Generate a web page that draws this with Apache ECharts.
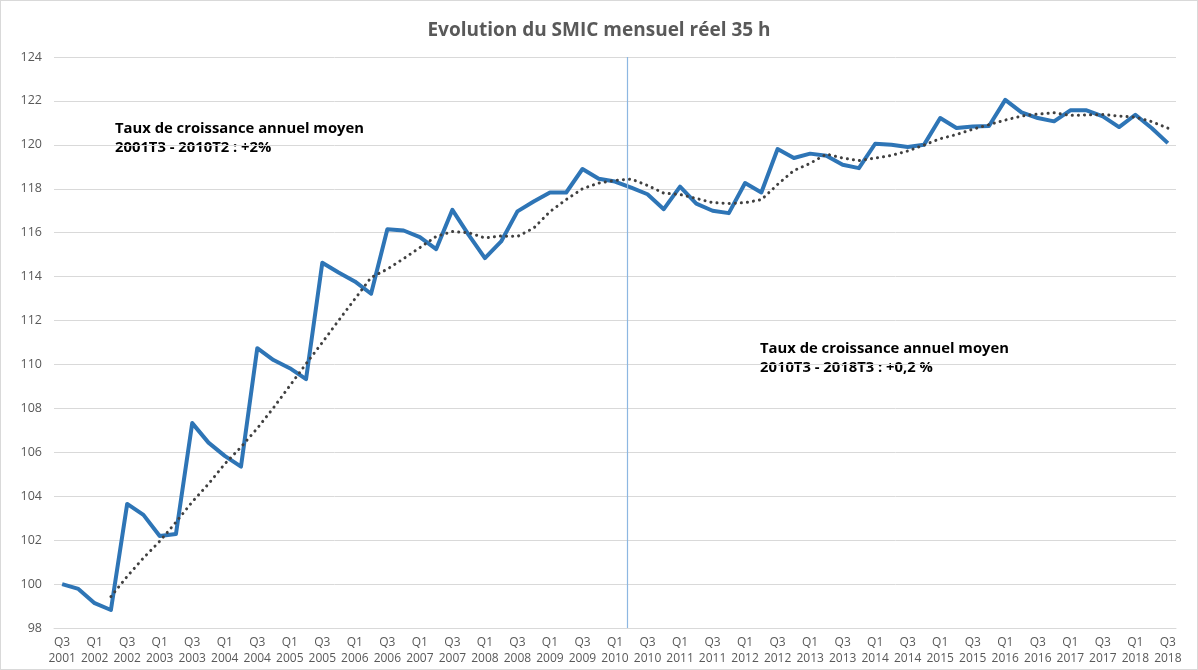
<!DOCTYPE html>
<html>
<head>
<meta charset="utf-8">
<script src="https://cdn.jsdelivr.net/npm/echarts@6/dist/echarts.min.js"></script>
<style>
    html, body { margin: 0; padding: 0; background: #fff; }
    #chart { width: 1196px; height: 668px; border: 1px solid #d9d9d9; }
</style>
</head>
<body>
<div id="chart"></div>
<script>
    // trimestres Q3 2001 -> Q3 2018
    var quarters = [
        'Q3 2001', 'Q4 2001', 'Q1 2002', 'Q2 2002', 'Q3 2002', 'Q4 2002', 'Q1 2003', 'Q2 2003',
        'Q3 2003', 'Q4 2003', 'Q1 2004', 'Q2 2004', 'Q3 2004', 'Q4 2004', 'Q1 2005', 'Q2 2005',
        'Q3 2005', 'Q4 2005', 'Q1 2006', 'Q2 2006', 'Q3 2006', 'Q4 2006', 'Q1 2007', 'Q2 2007',
        'Q3 2007', 'Q4 2007', 'Q1 2008', 'Q2 2008', 'Q3 2008', 'Q4 2008', 'Q1 2009', 'Q2 2009',
        'Q3 2009', 'Q4 2009', 'Q1 2010', 'Q2 2010', 'Q3 2010', 'Q4 2010', 'Q1 2011', 'Q2 2011',
        'Q3 2011', 'Q4 2011', 'Q1 2012', 'Q2 2012', 'Q3 2012', 'Q4 2012', 'Q1 2013', 'Q2 2013',
        'Q3 2013', 'Q4 2013', 'Q1 2014', 'Q2 2014', 'Q3 2014', 'Q4 2014', 'Q1 2015', 'Q2 2015',
        'Q3 2015', 'Q4 2015', 'Q1 2016', 'Q2 2016', 'Q3 2016', 'Q4 2016', 'Q1 2017', 'Q2 2017',
        'Q3 2017', 'Q4 2017', 'Q1 2018', 'Q2 2018', 'Q3 2018'
    ];

    // SMIC mensuel reel, base 100 en 2001T3
    var smic = [
        100.0, 99.78, 99.13, 98.82, 103.65, 103.15, 102.19, 102.28,
        107.33, 106.44, 105.84, 105.35, 110.74, 110.2, 109.83, 109.33,
        114.63, 114.19, 113.78, 113.22, 116.16, 116.1, 115.8, 115.25,
        117.04, 115.9, 114.84, 115.6, 116.97, 117.42, 117.83, 117.83,
        118.9, 118.46, 118.33, 118.05, 117.75, 117.07, 118.1, 117.32,
        117.0, 116.89, 118.26, 117.83, 119.81, 119.4, 119.6, 119.5,
        119.09, 118.94, 120.05, 120.0, 119.9, 120.0, 121.22, 120.77,
        120.84, 120.86, 122.05, 121.48, 121.22, 121.07, 121.57, 121.57,
        121.3, 120.81, 121.37, 120.77, 120.08
    ];

    // courbe de tendance (pointilles)
    var tendance = [
        '-', '-', '-', 99.43, 100.35, 101.19, 101.95, 102.82,
        103.74, 104.56, 105.47, 106.24, 107.09, 108.03, 109.03, 110.03,
        111.0, 112.0, 112.98, 113.96, 114.34, 114.82, 115.32, 115.83,
        116.05, 116.0, 115.76, 115.85, 115.83, 116.21, 116.96, 117.51,
        118.0, 118.26, 118.38, 118.44, 118.15, 117.8, 117.74, 117.56,
        117.37, 117.33, 117.37, 117.5, 118.2, 118.83, 119.16, 119.58,
        119.4, 119.28, 119.4, 119.52, 119.72, 119.99, 120.28, 120.47,
        120.71, 120.92, 121.13, 121.31, 121.4, 121.46, 121.34, 121.36,
        121.38, 121.31, 121.26, 121.06, 120.76
    ];

    var yTicks = [98, 124, 2];   // min, max, pas
    var rupture = 35.25;         // separation 2010T2 / 2010T3 (en trimestres)

    var txtGris = '#595959';
    var fontFam = '"Open Sans", Lato, sans-serif';

    var chart = echarts.init(document.getElementById('chart'));
    chart.setOption({
        animation: false,
        title: {
            text: 'Evolution du SMIC mensuel réel 35 h',
            left: 'center',
            top: 15,
            textStyle: { color: txtGris, fontSize: 19, fontWeight: 'bold', fontFamily: fontFam }
        },
        grid: { left: 53, right: 21, top: 56, bottom: 41 },
        xAxis: [
            {
                type: 'category',
                data: quarters,
                boundaryGap: true,
                axisLine: { lineStyle: { color: '#d9d9d9' } },
                axisTick: { show: false },
                axisLabel: {
                    interval: 1,
                    color: txtGris,
                    fontSize: 12,
                    fontFamily: fontFam,
                    lineHeight: 16,
                    margin: 7,
                    formatter: function (v) { return v.replace(' ', '\n'); }
                },
                splitLine: { show: false }
            },
            {
                type: 'value', min: 0, max: quarters.length, show: false
            }
        ],
        yAxis: {
            type: 'value',
            min: yTicks[0],
            max: yTicks[1],
            interval: yTicks[2],
            axisLine: { show: false },
            axisTick: { show: false },
            axisLabel: { color: txtGris, fontSize: 12.5, fontFamily: fontFam, margin: 12 },
            splitLine: { lineStyle: { color: '#d9d9d9', width: 1 } }
        },
        series: [
            {
                name: 'SMIC',
                type: 'line',
                data: smic,
                symbol: 'none',
                z: 3,
                lineStyle: { color: '#2e75b6', width: 4, join: 'round' }
            },
            {
                name: 'Tendance',
                type: 'line',
                data: tendance,
                symbol: 'none',
                z: 4,
                lineStyle: { color: '#404040', width: 3, type: [0.1, 6], cap: 'round' }
            },
            {
                name: 'rupture',
                type: 'line',
                xAxisIndex: 1,
                data: [],
                markLine: {
                    silent: true,
                    symbol: 'none',
                    label: { show: false },
                    lineStyle: { color: '#8db7e2', width: 1.2, type: 'solid' },
                    data: [{ xAxis: rupture }]
                }
            }
        ],
        graphic: [
            {
                type: 'text', left: 114, top: 118,
                style: {
                    text: 'Taux de croissance annuel moyen\n2001T3 - 2010T2 : +2%',
                    fill: '#000', font: 'bold 14.8px ' + fontFam, lineHeight: 19
                }
            },
            {
                type: 'text', left: 759, top: 338,
                style: {
                    text: 'Taux de croissance annuel moyen\n2010T3 - 2018T3 : +0,2 %',
                    fill: '#000', font: 'bold 14.8px ' + fontFam, lineHeight: 19
                }
            }
        ]
    });
</script>
</body>
</html>
